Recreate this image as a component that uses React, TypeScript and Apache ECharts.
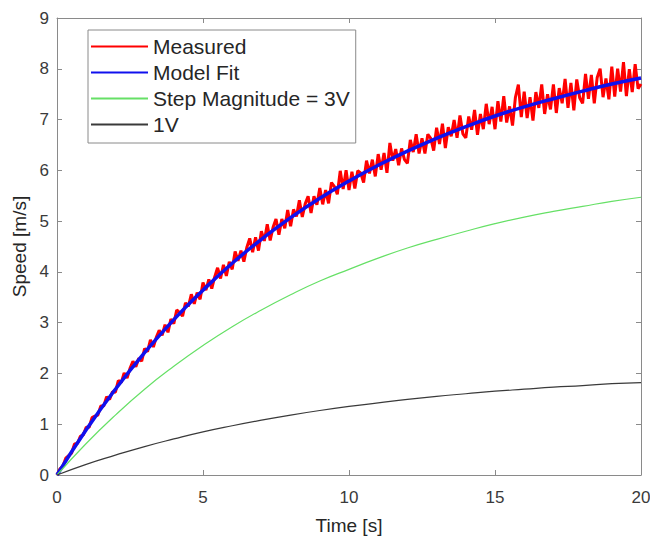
import React, { useEffect, useRef } from "react";
import * as echarts from "echarts";

// Measured speed, sampled every 0.1 s from 0 to 20 s
const measuredStep = 0.1;
const measuredValues = [
  0.0, 0.12, 0.17, 0.33, 0.38, 0.43, 0.61, 0.62, 0.76, 0.79,
  0.94, 0.94, 1.13, 1.16, 1.18, 1.36, 1.36, 1.54, 1.49, 1.64,
  1.63, 1.86, 1.82, 2.01, 1.91, 2.10, 2.24, 2.13, 2.30, 2.24,
  2.49, 2.43, 2.66, 2.52, 2.71, 2.85, 2.75, 2.96, 2.81, 3.07,
  2.98, 3.25, 3.20, 3.13, 3.39, 3.32, 3.56, 3.37, 3.59, 3.46,
  3.79, 3.64, 3.85, 3.67, 3.90, 4.08, 3.87, 4.14, 3.92, 4.20,
  4.05, 4.40, 4.22, 4.42, 4.20, 4.48, 4.66, 4.39, 4.68, 4.42,
  4.80, 4.61, 4.94, 4.62, 4.88, 5.04, 4.73, 5.04, 4.86, 5.22,
  4.90, 5.23, 5.09, 5.41, 5.08, 5.34, 5.49, 5.16, 5.49, 5.32,
  5.65, 5.33, 5.61, 5.35, 5.76, 5.68, 5.53, 5.99, 5.63, 6.00,
  5.61, 5.97, 5.64, 5.99, 5.95, 5.76, 6.19, 5.94, 6.21, 5.88,
  6.32, 6.01, 6.34, 5.95, 6.54, 6.19, 6.42, 6.10, 6.43, 6.21,
  6.14, 6.60, 6.36, 6.71, 6.33, 6.63, 6.33, 6.71, 6.63, 6.39,
  6.84, 6.52, 6.92, 6.44, 6.85, 6.67, 6.99, 6.64, 7.08, 6.72,
  6.64, 7.06, 6.80, 7.19, 6.70, 7.11, 6.81, 7.31, 6.91, 7.25,
  6.81, 7.36, 6.96, 7.46, 6.94, 7.26, 6.88, 7.44, 7.69, 7.05,
  7.55, 7.03, 7.44, 6.98, 7.54, 7.23, 7.69, 7.11, 7.50, 7.20,
  7.69, 7.13, 7.62, 7.32, 7.80, 7.23, 7.72, 7.18, 7.79, 7.43,
  7.32, 7.90, 7.41, 7.88, 7.32, 7.83, 8.00, 7.44, 7.81, 7.40,
  8.04, 7.45, 8.00, 7.55, 8.13, 7.46, 7.99, 7.54, 8.09, 7.61,
  7.70,
];

// Smooth curves, read every 1 s
const curveTimes = [0, 1, 2, 3, 4, 5, 6, 7, 8, 9, 10, 11, 12, 13, 14, 15, 16, 17, 18, 19, 20];
const modelFitValues = [0, 0.89, 1.69, 2.41, 3.06, 3.64, 4.17, 4.64, 5.07, 5.45, 5.79, 6.1, 6.38, 6.63, 6.86, 7.07, 7.25, 7.41, 7.56, 7.7, 7.82];
const step3VValues = [0, 0.62, 1.18, 1.69, 2.14, 2.55, 2.92, 3.25, 3.55, 3.82, 4.05, 4.27, 4.47, 4.64, 4.8, 4.95, 5.08, 5.19, 5.29, 5.39, 5.47];
const step1VValues = [0, 0.21, 0.39, 0.56, 0.71, 0.85, 0.97, 1.08, 1.18, 1.27, 1.35, 1.42, 1.49, 1.55, 1.6, 1.65, 1.69, 1.73, 1.76, 1.8, 1.82];

const seriesNames = ["Measured", "Model Fit", "Step Magnitude = 3V", "1V"];

const FONT = "Liberation Sans, Arial, Helvetica, sans-serif";
const AXIS_COLOR = "#8a8a8a";

export default function App() {
  const ref = useRef<HTMLDivElement>(null);

  useEffect(() => {
    if (!ref.current) return;
    const chart = echarts.init(ref.current, null, { renderer: "svg" });

    const measuredData = measuredValues.map((v, i) => [+(i * measuredStep).toFixed(1), v]);
    const pair = (vals: number[]) => vals.map((v, i) => [curveTimes[i], v]);

    const axisCommon = {
      axisLine: { show: true, onZero: false, lineStyle: { color: AXIS_COLOR, width: 1 } },
      axisTick: { show: true, inside: true, length: 5, lineStyle: { color: AXIS_COLOR } },
      splitLine: { show: false },
    };

    chart.setOption({
      animation: false,
      backgroundColor: "#ffffff",
      textStyle: { fontFamily: FONT },
      grid: { left: 57, right: 9, top: 18, bottom: 61, containLabel: false, outerBoundsMode: "none" },
      xAxis: [
        {
          type: "value",
          min: 0,
          max: 20,
          interval: 5,
          position: "bottom",
          name: "Time [s]",
          nameLocation: "middle",
          nameGap: 41,
          nameTextStyle: { fontSize: 19, color: "#262626", fontFamily: FONT },
          axisLabel: { fontSize: 17, color: "#3a3a3a", margin: 14, fontFamily: FONT },
          ...axisCommon,
        },
        {
          type: "value",
          min: 0,
          max: 20,
          interval: 5,
          position: "top",
          axisLabel: { show: false },
          ...axisCommon,
        },
      ],
      yAxis: [
        {
          type: "value",
          min: 0,
          max: 9,
          interval: 1,
          position: "left",
          name: "Speed [m/s]",
          nameLocation: "middle",
          nameGap: 28,
          nameTextStyle: { fontSize: 19, color: "#262626", fontFamily: FONT },
          axisLabel: { fontSize: 17, color: "#3a3a3a", margin: 8, fontFamily: FONT },
          ...axisCommon,
        },
        {
          type: "value",
          min: 0,
          max: 9,
          interval: 1,
          position: "right",
          axisLabel: { show: false },
          ...axisCommon,
        },
      ],
      legend: {
        data: seriesNames,
        orient: "vertical",
        left: 88,
        top: 30,
        itemWidth: 57,
        itemHeight: 4,
        itemGap: 5,
        padding: [6, 6, 8, 2],
        borderColor: AXIS_COLOR,
        borderWidth: 1,
        backgroundColor: "#ffffff",
        itemStyle: { opacity: 0 },
        textStyle: { fontSize: 21, color: "#262626", fontFamily: FONT },
      },
      series: [
        {
          name: seriesNames[0],
          type: "line",
          data: measuredData,
          symbol: "none",
          lineStyle: { color: "#ff0000", width: 3 },
          itemStyle: { color: "#ff0000" },
        },
        {
          name: seriesNames[1],
          type: "line",
          data: pair(modelFitValues),
          symbol: "none",
          smooth: true,
          lineStyle: { color: "#1010ee", width: 3.5 },
          itemStyle: { color: "#1010ee" },
        },
        {
          name: seriesNames[2],
          type: "line",
          data: pair(step3VValues),
          symbol: "none",
          smooth: true,
          lineStyle: { color: "#66e066", width: 1.2 },
          itemStyle: { color: "#66e066" },
        },
        {
          name: seriesNames[3],
          type: "line",
          data: pair(step1VValues),
          symbol: "none",
          smooth: true,
          lineStyle: { color: "#3a3a3a", width: 1.2 },
          itemStyle: { color: "#3a3a3a" },
        },
      ],
    });

    return () => chart.dispose();
  }, []);

  return (
    <div
      ref={ref}
      style={{ position: "fixed", left: 0, top: 0, width: 650, height: 536, background: "#fff" }}
    />
  );
}
